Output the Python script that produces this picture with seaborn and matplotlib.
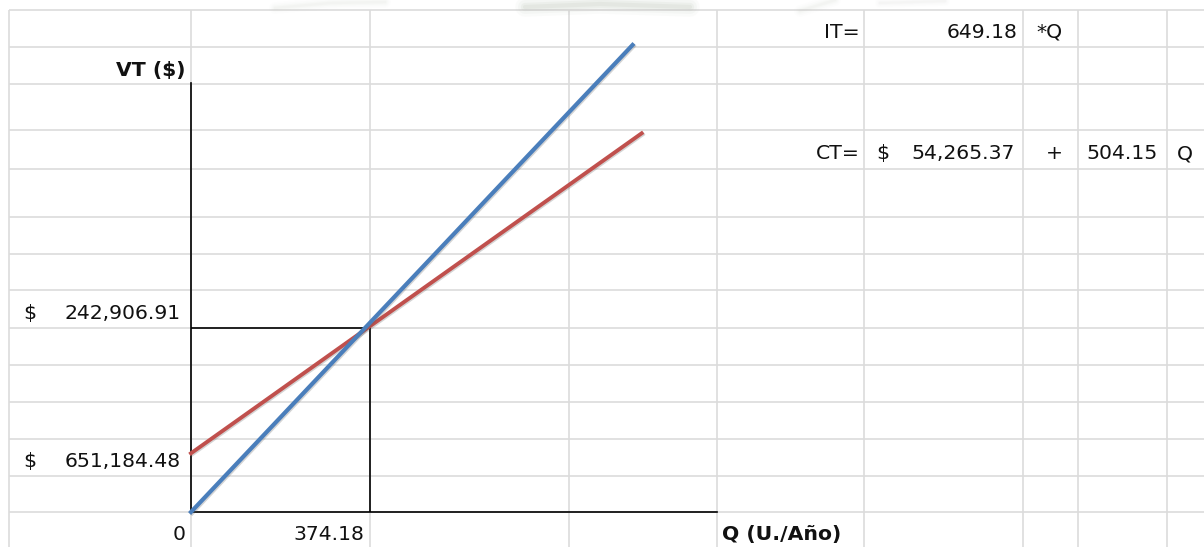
import matplotlib
matplotlib.use("Agg")
import matplotlib.pyplot as plt
import matplotlib.patheffects as pe
import seaborn as sns

# ---- break-even data -------------------------------------------------------
it_price = 649.18          # IT = 649.18 * Q
ct_fixed = 54265.37        # CT = 54,265.37 + 504.15 Q
ct_unit = 504.15
q_break = 374.18           # break-even quantity
vt_break = 242906.91       # break-even value

# sketched lines (start / end points)
q_it = [0, 923]
vt_it = [0, 615500]
q_ct = [0, 942]
vt_ct = [77400, 499100]

# cell texts
y_label = "VT ($)"
x_label = "Q (U./Año)"
y_marks = ["242,906.91", "651,184.48"]
x_marks = ["0", "374.18"]

# ---- sheet geometry (pixels) ---------------------------------------------
W, H = 1204, 547
row_lines = [9.5, 47, 83.5, 130, 169, 217, 254, 290, 328, 365, 402, 439, 476, 512]
col_lines = [8.5, 191, 370, 569, 717, 864, 1023, 1078, 1167]
GRID = "#dcdcdc"
TXT = "#111111"
FONT = "DejaVu Sans"
FS = 14.7

# chart frame in pixels
X0, X1 = 191, 717
Y0, YTOP, YAX = 512, 40, 83
PX_PER_Q = (370 - X0) / q_break
USD_PER_PX = vt_break / (Y0 - 327.7)

fig = plt.figure(figsize=(W / 100, H / 100), dpi=100)
fig.patch.set_facecolor("white")

bg = fig.add_axes([0, 0, 1, 1])
bg.set_xlim(0, W)
bg.set_ylim(H, 0)
bg.axis("off")

# faint watermark strokes along the top edge
for lw, a in [(14, 0.06), (10, 0.08), (6, 0.12), (3, 0.15)]:
    bg.plot([525, 600, 690], [7, 4, 7], color="#b8beb2", lw=lw, alpha=a,
            solid_capstyle="round")
    bg.plot([275, 330, 385], [8, 3, 2], color="#c8ccc4", lw=lw * 0.6, alpha=a * 0.5,
            solid_capstyle="round")
    bg.plot([800, 835], [11, 0], color="#c8ccc4", lw=lw * 0.6, alpha=a * 0.5,
            solid_capstyle="round")
    bg.plot([880, 945], [3, 1], color="#c8ccc4", lw=lw * 0.5, alpha=a * 0.4,
            solid_capstyle="round")

# spreadsheet gridlines
for y in row_lines:
    bg.plot([col_lines[0], W], [y, y], color=GRID, lw=1.2, solid_capstyle="butt", zorder=1)
for x in col_lines:
    bg.plot([x, x], [row_lines[0], H], color=GRID, lw=1.2, solid_capstyle="butt", zorder=1)

# ---- chart ------------------------------------------------------------------
ax = fig.add_axes([X0 / W, (H - Y0) / H, (X1 - X0) / W, (Y0 - YTOP) / H])
ax.set_xlim(0, (X1 - X0) / PX_PER_Q)
ax.set_ylim(0, (Y0 - YTOP) * USD_PER_PX)
ax.patch.set_alpha(0)
for s in ["top", "right"]:
    ax.spines[s].set_visible(False)
ax.spines["left"].set_bounds(0, (Y0 - YAX) * USD_PER_PX)
for s in ["left", "bottom"]:
    ax.spines[s].set_linewidth(1.2)
    ax.spines[s].set_color("black")
ax.set_xticks([])
ax.set_yticks([])

# break-even guide lines
ax.plot([0, q_break], [vt_break, vt_break], color="black", lw=1.2, zorder=2)
ax.plot([q_break, q_break], [0, vt_break], color="black", lw=1.2, zorder=2)

shadow = [pe.SimpleLineShadow(offset=(0.8, -0.8), alpha=0.25, shadow_color="#555555"),
          pe.Normal()]
sns.lineplot(x=q_ct, y=vt_ct, ax=ax, color="#c0504d", lw=2.8, zorder=3,
             path_effects=shadow, clip_on=False)
sns.lineplot(x=q_it, y=vt_it, ax=ax, color="#4a7ebb", lw=3.0, zorder=4,
             path_effects=shadow, clip_on=False)

# ---- cell texts ---------------------------------------------------------
def cell(x, y, s, ha="right", bold=False):
    bg.text(x, y, s, ha=ha, va="baseline", fontsize=FS, color=TXT, family=FONT,
            fontweight="bold" if bold else "normal", zorder=5)

cell(185, 76, y_label, bold=True)
cell(23, 319, "$", ha="left")
cell(181, 319, y_marks[0])
cell(23, 467, "$", ha="left")
cell(181, 467, y_marks[1])
cell(186, 540, x_marks[0])
cell(364, 540, x_marks[1])
cell(722, 540, x_label, ha="left", bold=True)

cell(860, 38, "IT=")
cell(1017, 38, f"{it_price:.2f}")
cell(1036, 38, "*Q", ha="left")
cell(860, 159, "CT=")
cell(876, 159, "$", ha="left")
cell(1015, 159, f"{ct_fixed:,.2f}")
cell(1054, 159, "+", ha="center")
cell(1158, 159, f"{ct_unit:.2f}")
cell(1177, 159, "Q", ha="left")

fig.savefig("out.png", dpi=100, facecolor="white")
